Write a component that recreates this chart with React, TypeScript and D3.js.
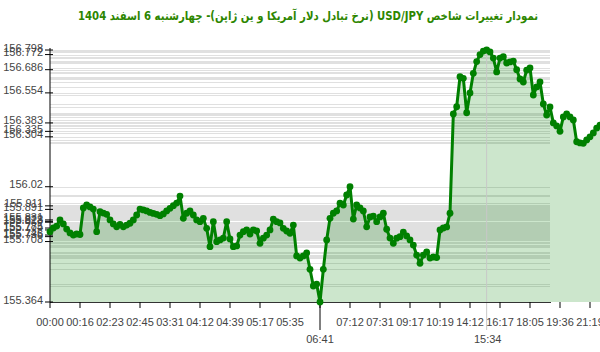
import React from "react";
import * as d3 from "d3";

const title = "نمودار تغییرات شاخص USD/JPY (نرخ تبادل دلار آمریکا و ین ژاپن)- چهارشنبه  6 اسفند 1404";

const prices = [
  155.764, 155.785, 155.796, 155.831, 155.808, 155.779, 155.757, 155.745, 155.751, 155.748,
  155.899, 155.916, 155.905, 155.893, 155.764, 155.878, 155.870, 155.863, 155.831, 155.808,
  155.792, 155.806, 155.792, 155.802, 155.812, 155.831, 155.859, 155.893, 155.888, 155.882,
  155.874, 155.868, 155.863, 155.855, 155.865, 155.882, 155.897, 155.912, 155.927, 155.967,
  155.840, 155.869, 155.882, 155.859, 155.831, 155.821, 155.840, 155.783, 155.679, 155.821,
  155.707, 155.717, 155.728, 155.821, 155.723, 155.679, 155.683, 155.745, 155.764, 155.774,
  155.751, 155.774, 155.768, 155.698, 155.727, 155.745, 155.774, 155.835, 155.821, 155.814,
  155.783, 155.768, 155.755, 155.802, 155.626, 155.614, 155.626, 155.643, 155.550, 155.455,
  155.466, 155.364, 155.550, 155.717, 155.840, 155.869, 155.882, 155.926, 155.916, 155.973,
  156.020, 155.836, 155.916, 155.899, 155.882, 155.792, 155.848, 155.853, 155.821, 155.848,
  155.869, 155.778, 155.728, 155.698, 155.727, 155.736, 155.762, 155.740, 155.717, 155.688,
  155.631, 155.584, 155.631, 155.649, 155.614, 155.620, 155.617, 155.774, 155.785, 155.791,
  155.869, 156.434, 156.475, 156.646, 156.637, 156.441, 156.554, 156.665, 156.732, 156.772,
  156.792, 156.798, 156.787, 156.752, 156.673, 156.752, 156.760, 156.724, 156.730, 156.735,
  156.686, 156.633, 156.616, 156.684, 156.696, 156.542, 156.588, 156.616, 156.491, 156.428,
  156.474, 156.383, 156.366, 156.335, 156.417, 156.434, 156.417, 156.400, 156.276, 156.269,
  156.267, 156.286, 156.304, 156.326, 156.354, 156.371, 156.388,
];

const xTickLabels = [
  "00:00", "00:16", "02:23", "02:45", "03:31", "04:12", "04:39", "05:17", "05:35", "",
  "07:12", "07:31", "09:17", "10:19", "14:12", "16:17", "18:05", "19:36", "21:19",
];
const pointsPerTick = 9;

const minLabel = "06:41";
const maxLabel = "15:34";

const yTickValues = [
  156.798, 156.772, 156.686, 156.554, 156.383, 156.335, 156.304, 156.02,
  155.911, 155.891, 155.831, 155.823, 155.818, 155.785, 155.774, 155.745, 155.736, 155.708, 155.364,
];

const W = 600;
const H = 352;
const left = 50;
const right = 550;
const top = 50;
const bottom = 302;

export default function App() {
  const x = d3.scaleLinear().domain([0, 150]).range([left, right]);
  const yMin = d3.min(prices) as number;
  const yMax = d3.max(prices) as number;
  const y = d3.scaleLinear().domain([yMin, yMax]).range([bottom, top]);

  const line = d3
    .line<number>()
    .x((_, i) => x(i))
    .y((d) => y(d));
  const area = d3
    .area<number>()
    .x((_, i) => x(i))
    .y0(bottom)
    .y1((d) => y(d));

  const minIdx = d3.minIndex(prices);
  const maxIdx = d3.maxIndex(prices);
  const font = "Arial, 'Liberation Sans', sans-serif";

  return (
    <svg
      width={W}
      height={H}
      style={{ position: "absolute", left: 0, top: 0, background: "#fff" }}
    >
      <rect x={0} y={0} width={W} height={H} fill="#fff" />
      <text
        x={308}
        y={20}
        textAnchor="middle"
        direction="rtl"
        fontFamily="Tahoma, 'DejaVu Sans', sans-serif"
        fontWeight="bold"
        fontSize={12}
        textLength={460}
        lengthAdjust="spacingAndGlyphs"
        fill="#2d8600"
      >
        {title}
      </text>

      {/* horizontal gridlines at each value */}
      {prices.map((p, i) => (
        <line
          key={"g" + i}
          x1={left}
          x2={right}
          y1={Math.round(y(p)) + 0.5}
          y2={Math.round(y(p)) + 0.5}
          stroke="#e0e0e0"
          strokeWidth={1}
        />
      ))}

      <path d={area(prices) as string} fill="rgba(0,128,0,0.2)" stroke="none" />

      {/* max vertical marker */}
      <line
        x1={x(maxIdx)}
        x2={x(maxIdx)}
        y1={y(prices[maxIdx])}
        y2={330}
        stroke="#c8c8c8"
        strokeWidth={1}
      />

      {/* axes */}
      <line x1={left} x2={left} y1={top - 2} y2={bottom} stroke="#000" strokeWidth={1} />
      <line x1={left} x2={right + 1} y1={bottom + 0.5} y2={bottom + 0.5} stroke="#333" strokeWidth={1} />

      {yTickValues.map((v, i) => (
        <g key={"yt" + i}>
          <line x1={45} x2={53} y1={y(v)} y2={y(v)} stroke="#000" strokeWidth={1} />
          <text x={43} y={y(v) + 1.5} textAnchor="end" fontFamily={font} fontSize={11} fill="#444">
            {String(v)}
          </text>
        </g>
      ))}

      {xTickLabels.map((lab, k) => {
        const xi = x(k * pointsPerTick);
        return (
          <g key={"xt" + k}>
            <line x1={xi} x2={xi} y1={bottom} y2={308} stroke="#000" strokeWidth={1} />
            {lab && (
              <text x={xi} y={326} textAnchor="middle" fontFamily={font} fontSize={11} fill="#444">
                {lab}
              </text>
            )}
          </g>
        );
      })}

      {/* min marker */}
      <line x1={x(minIdx)} x2={x(minIdx)} y1={bottom} y2={330} stroke="#000" strokeWidth={1} />
      <text x={x(minIdx)} y={343} textAnchor="middle" fontFamily={font} fontSize={11} fill="#444">
        {minLabel}
      </text>
      <text x={x(maxIdx) + 1} y={343} textAnchor="middle" fontFamily={font} fontSize={11} fill="#444">
        {maxLabel}
      </text>

      <path d={line(prices) as string} fill="none" stroke="#008000" strokeWidth={3} strokeLinejoin="round" />
      {prices.map((p, i) => (
        <circle key={"c" + i} cx={x(i)} cy={y(p)} r={3.4} fill="#008000" />
      ))}
    </svg>
  );
}
